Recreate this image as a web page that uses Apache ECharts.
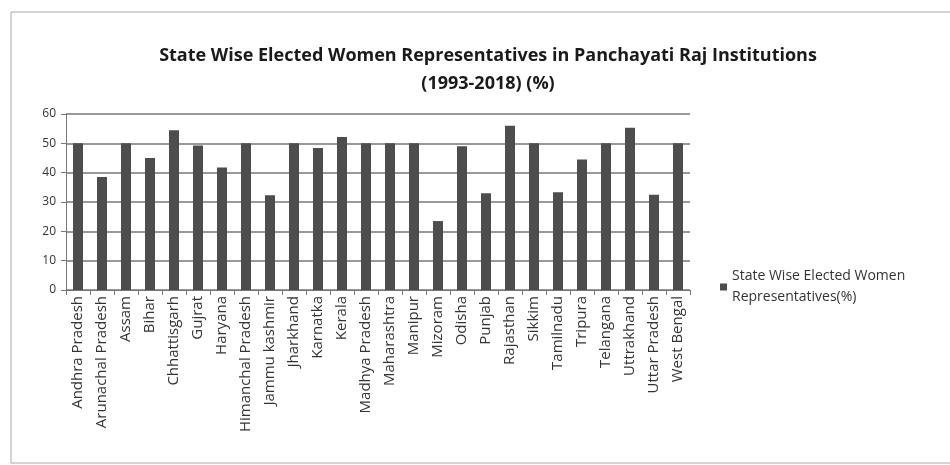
<!DOCTYPE html>
<html>
<head>
<meta charset="utf-8">
<script src="https://cdn.jsdelivr.net/npm/echarts@6/dist/echarts.min.js"></script>
<style>
  html, body { margin: 0; padding: 0; background: #fff; }
  #grafico { width: 950px; height: 465px; }
</style>
</head>
<body>
<div id="grafico"></div>
<script>
var states = ['Andhra Pradesh', 'Arunachal Pradesh', 'Assam', 'Bihar', 'Chhattisgarh', 'Gujrat',
  'Haryana', 'Himanchal Pradesh', 'Jammu kashmir', 'Jharkhand', 'Karnatka', 'Kerala',
  'Madhya Pradesh', 'Maharashtra', 'Manipur', 'Mizoram', 'Odisha', 'Punjab', 'Rajasthan',
  'Sikkim', 'Tamilnadu', 'Tripura', 'Telangana', 'Uttrakhand', 'Uttar Pradesh', 'West Bengal'];
var womenPct = [50, 38.5, 50, 45, 54.5, 49.3, 41.8, 50, 32.3, 50, 48.4, 52.2,
  50, 50, 50, 23.5, 49, 33, 56, 50, 33.3, 44.5, 50, 55.3, 32.5, 50];
var yTicks = [0, 10, 20, 30, 40, 50, 60];

var chartDom = document.getElementById('grafico');
var myChart = echarts.init(chartDom);
var font = '"Open Sans", "Noto Sans", sans-serif';

var option = {
  animation: false,
  title: {
    text: 'State Wise Elected Women Representatives in Panchayati Raj Institutions\n(1993-2018) (%)',
    left: 483,
    top: 37,
    textAlign: 'center',
    textStyle: {
      fontFamily: font,
      fontSize: 18,
      fontWeight: 'bold',
      color: '#1a1a1a',
      lineHeight: 28
    }
  },
  legend: {
    orient: 'vertical',
    left: 715,
    top: 261,
    itemWidth: 7,
    itemHeight: 7,
    itemGap: 6,
    icon: 'rect',
    textStyle: {
      fontFamily: font,
      fontSize: 14,
      color: '#333',
      lineHeight: 21
    },
    formatter: function () { return 'State Wise Elected Women\nRepresentatives(%)'; },
    data: ['State Wise Elected Women Representatives(%)']
  },
  graphic: [{
    type: 'rect',
    shape: { x: 11, y: 12, width: 945, height: 451 },
    style: { fill: 'none', stroke: '#aaa', lineWidth: 1 }
  }],
  grid: { left: 66, right: 260, top: 114, bottom: 175 },
  xAxis: {
    type: 'category',
    data: states,
    axisLine: { lineStyle: { color: '#777' } },
    axisTick: { show: true, alignWithLabel: false, lineStyle: { color: '#777' } },
    axisLabel: {
      rotate: 90,
      interval: 0,
      margin: 6,
      fontFamily: font,
      fontSize: 15,
      color: '#333'
    }
  },
  yAxis: {
    type: 'value',
    min: yTicks[0],
    max: yTicks[yTicks.length - 1],
    interval: 10,
    axisLine: { show: true, lineStyle: { color: '#777' } },
    axisTick: { show: true, lineStyle: { color: '#777' } },
    axisLabel: { fontFamily: font, fontSize: 12, color: '#333', margin: 10 },
    splitLine: { lineStyle: { color: '#777', width: 1.5 } }
  },
  series: [{
    name: 'State Wise Elected Women Representatives(%)',
    type: 'bar',
    data: womenPct,
    barWidth: 10,
    itemStyle: { color: '#4d4d4d' }
  }]
};

myChart.setOption(option);
</script>
</body>
</html>
